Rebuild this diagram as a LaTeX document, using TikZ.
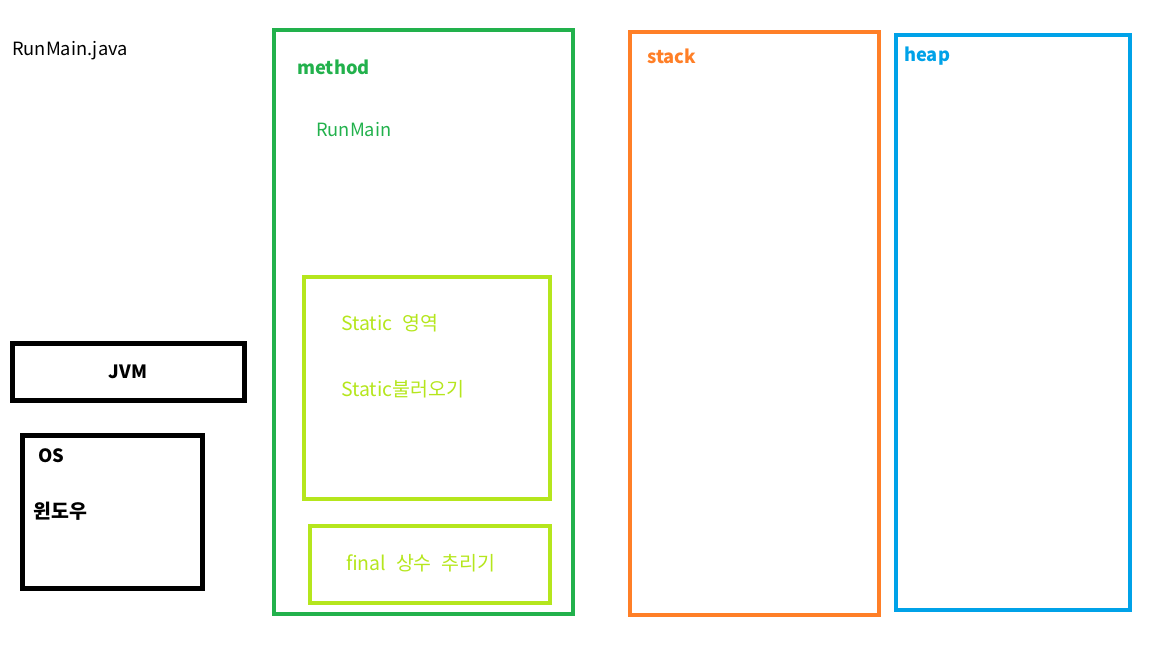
\documentclass[tikz,border=0pt]{standalone}
\usepackage{fontspec}
\setmainfont{Noto Sans CJK KR}
\definecolor{pgreen}{HTML}{22B14C}
\definecolor{plime}{HTML}{B5E61D}
\definecolor{porange}{HTML}{FF7F27}
\definecolor{pblue}{HTML}{00A2E8}
\tikzset{
  blackbox/.style={draw=black, line width=3.75pt},
  colbox/.style={line width=3pt},
  lbl/.style={anchor=west, inner sep=0pt, font=\fontsize{13.7}{15}\selectfont},
  klbl/.style={anchor=west, inner sep=0pt, font=\fontsize{14.6}{16}\selectfont},
  blbl/.style={lbl, font=\fontsize{13.7}{15}\selectfont\bfseries},
}
\begin{document}
\begin{tikzpicture}[x=0.75pt,y=-0.75pt]
\useasboundingbox (0,0) rectangle (1152,648);
% boxes
\draw[blackbox] (12.5,343.5) rectangle (244.5,400.5);
\draw[blackbox] (22.5,435.5) rectangle (202.5,588.5);
\draw[colbox, draw=pgreen] (274,30) rectangle (573,614);
\draw[colbox, draw=plime] (304,277) rectangle (550,499);
\draw[colbox, draw=plime] (310,526) rectangle (550,603);
\draw[colbox, draw=porange] (630,32) rectangle (879,615);
\draw[colbox, draw=pblue] (896,35) rectangle (1130,610);
% texts
\node[lbl] (runmainjava) at (12,51) {RunMain.java};
\node[blbl, text=pgreen] (method) at (297,67) {method};
\node[lbl, text=pgreen] (runmain) at (316,130) {RunMain};
\node[klbl, text=plime] (staticarea) at (341,323) {Static\hspace{0.5em}영역};
\node[klbl, text=plime] (staticcall) at (341,389) {Static불러오기};
\node[klbl, text=plime] (finalc) at (346,563) {final\hspace{0.5em}상수\hspace{0.5em}추리기};
\node[blbl, anchor=center] (jvm) at (128,372) {JVM};
\node[blbl] (os) at (38,456) {OS};
\node[blbl, font=\fontsize{14.6}{16}\selectfont\bfseries] (win) at (33,511) {윈도우};
\node[blbl, text=porange] (stack) at (647,56) {stack};
\node[blbl, text=pblue] (heap) at (904,56) {heap};
\end{tikzpicture}
\end{document}
